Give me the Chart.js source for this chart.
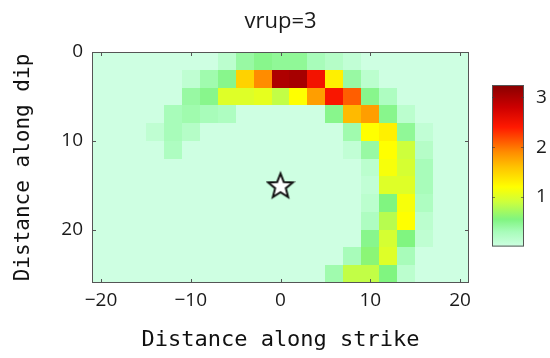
<!DOCTYPE html>
<html lang="en">
<head>
<meta charset="UTF-8" />
<title>vrup=3</title>
<style>
  body { margin: 0; padding: 0; background: #fff; }
  .wrap { position: relative; width: 550px; height: 358px; }
  #main { position: absolute; left: 0; top: 0; }
  #cbar { position: absolute; left: 470px; top: 60px; }
</style>
</head>
<body>
<div class="wrap">
  <canvas id="main" width="550" height="358"></canvas>
  <canvas id="cbar" width="80" height="210"></canvas>
</div>
<script src="https://cdn.jsdelivr.net/npm/chart.js@4.4.0/dist/chart.umd.min.js"></script>
<script>
// cell centres (km), cells are 2 km wide
const cellSize = 2;
const strikeCenters = [-20, -18, -16, -14, -12, -10, -8, -6, -4, -2, 0, 2, 4, 6, 8, 10, 12, 14, 16, 18, 20];
const dipCenters = [1, 3, 5, 7, 9, 11, 13, 15, 17, 19, 21, 23, 25];

// slip per cell, one row per dip centre
const slip = [
  [0, 0, 0, 0, 0, 0, 0, 0.15, 0.4, 0.5, 0.45, 0.45, 0.3, 0.2, 0.1, 0, 0, 0, 0, 0, 0],
  [0, 0, 0, 0, 0, 0.12, 0.35, 0.5, 1.5, 1.9, 3.0, 3.05, 2.5, 1.3, 0.4, 0.15, 0, 0, 0, 0, 0],
  [0, 0, 0, 0, 0, 0.4, 0.5, 1.0, 1.0, 1.05, 0.85, 1.2, 1.8, 2.45, 2.1, 0.5, 0.25, 0, 0, 0, 0],
  [0, 0, 0, 0, 0.3, 0.35, 0.3, 0.25, 0, 0, 0, 0, 0, 0.5, 1.65, 1.8, 0.5, 0.15, 0, 0, 0],
  [0, 0, 0, 0.12, 0.3, 0.2, 0, 0, 0, 0, 0, 0, 0, 0, 0.35, 1.2, 1.3, 0.45, 0.1, 0, 0],
  [0, 0, 0, 0, 0.25, 0, 0, 0, 0, 0, 0, 0, 0, 0, 0.1, 0.4, 1.2, 0.9, 0.2, 0, 0],
  [0, 0, 0, 0, 0, 0, 0, 0, 0, 0, 0, 0, 0, 0, 0, 0.15, 1.15, 0.95, 0.3, 0, 0],
  [0, 0, 0, 0, 0, 0, 0, 0, 0, 0, 0, 0, 0, 0, 0, 0.1, 1.0, 1.0, 0.3, 0, 0],
  [0, 0, 0, 0, 0, 0, 0, 0, 0, 0, 0, 0, 0, 0, 0, 0.15, 0.55, 1.15, 0.25, 0, 0],
  [0, 0, 0, 0, 0, 0, 0, 0, 0, 0, 0, 0, 0, 0, 0, 0.25, 0.8, 1.2, 0.15, 0, 0],
  [0, 0, 0, 0, 0, 0, 0, 0, 0, 0, 0, 0, 0, 0, 0, 0.5, 0.95, 0.55, 0.12, 0, 0],
  [0, 0, 0, 0, 0, 0, 0, 0, 0, 0, 0, 0, 0, 0, 0.3, 0.6, 1.0, 0.3, 0, 0, 0],
  [0, 0, 0, 0, 0, 0, 0, 0, 0, 0, 0, 0, 0, 0.35, 0.85, 0.85, 0.55, 0.15, 0, 0, 0]
];

const hypocenter = [{ x: 0, y: 15 }];
const xTickValues = [-20, -10, 0, 10, 20];
const yTickValues = [0, 10, 20];
const colorbarTicks = [1, 2, 3];
const colorbarMax = 3.25;

// colormap: [value, r, g, b]
const colorStops = [
  [0.0, 206, 255, 226],
  [0.3, 168, 252, 186],
  [0.55, 128, 245, 128],
  [0.9, 205, 255, 60],
  [1.2, 255, 255, 0],
  [1.6, 255, 195, 0],
  [1.9, 255, 140, 0],
  [2.4, 255, 25, 0],
  [2.8, 205, 0, 0],
  [3.25, 135, 0, 0]
];

function slipColor(v) {
  if (v <= colorStops[0][0]) return `rgb(${colorStops[0].slice(1).join(',')})`;
  for (let i = 1; i < colorStops.length; i++) {
    const a = colorStops[i - 1], b = colorStops[i];
    if (v <= b[0]) {
      const t = (v - a[0]) / (b[0] - a[0]);
      const c = [1, 2, 3].map(k => Math.round(a[k] + (b[k] - a[k]) * t));
      return `rgb(${c.join(',')})`;
    }
  }
  const last = colorStops[colorStops.length - 1];
  return `rgb(${last.slice(1).join(',')})`;
}

function makeStar(rOuter, rInner) {
  const size = Math.ceil(rOuter * 2 + 4);
  const c = document.createElement('canvas');
  c.width = size;
  c.height = size;
  const g = c.getContext('2d');
  const cx = size / 2, cy = size / 2 + rOuter * 0.095;
  g.beginPath();
  for (let i = 0; i < 10; i++) {
    const r = i % 2 ? rInner : rOuter;
    const a = -Math.PI / 2 + i * Math.PI / 5;
    g.lineTo(cx + r * Math.cos(a), cy + r * Math.sin(a));
  }
  g.closePath();
  g.fillStyle = '#fff';
  g.fill();
  g.lineWidth = 2;
  g.strokeStyle = '#111';
  g.stroke();
  return c;
}

const cells = [];
dipCenters.forEach((y, r) => {
  strikeCenters.forEach((x, c) => cells.push({ x: x, y: y, v: slip[r][c] }));
});

const tickFont = { family: 'Open Sans', size: 19 };
const labelFont = { family: 'DejaVu Sans Mono', size: 22 };

const heatmapPlugin = {
  id: 'heatmap',
  beforeDatasetsDraw(chart) {
    const { ctx } = chart;
    const xs = chart.scales.x, ys = chart.scales.y;
    ctx.save();
    chart.data.datasets[0].data.forEach(d => {
      const x0 = Math.round(xs.getPixelForValue(d.x - cellSize / 2));
      const x1 = Math.round(xs.getPixelForValue(d.x + cellSize / 2));
      const y0 = Math.round(ys.getPixelForValue(d.y - cellSize / 2));
      const y1 = Math.round(ys.getPixelForValue(d.y + cellSize / 2));
      ctx.fillStyle = slipColor(d.v);
      ctx.fillRect(x0, Math.min(y0, y1), x1 - x0, Math.abs(y1 - y0));
    });
    ctx.restore();
  },
  afterDatasetsDraw(chart) {
    const { ctx, chartArea: a } = chart;
    const xs = chart.scales.x, ys = chart.scales.y;
    ctx.save();
    ctx.strokeStyle = '#555';
    ctx.lineWidth = 1;
    ctx.strokeRect(a.left + 0.5, a.top + 0.5, a.right - a.left - 1, a.bottom - a.top - 1);
    ctx.beginPath();
    xTickValues.forEach(v => {
      const px = Math.round(xs.getPixelForValue(v)) + 0.5;
      ctx.moveTo(px, a.top); ctx.lineTo(px, a.top + 4);
      ctx.moveTo(px, a.bottom); ctx.lineTo(px, a.bottom - 4);
    });
    yTickValues.forEach(v => {
      const py = Math.round(ys.getPixelForValue(v)) + 0.5;
      ctx.moveTo(a.left, py); ctx.lineTo(a.left + 4, py);
      ctx.moveTo(a.right, py); ctx.lineTo(a.right - 4, py);
    });
    ctx.stroke();
    ctx.restore();
  }
};

new Chart(document.getElementById('main'), {
  type: 'scatter',
  data: {
    datasets: [
      { label: 'slip', data: cells, pointRadius: 0, pointHoverRadius: 0 },
      { label: 'hypocenter', data: hypocenter, pointStyle: makeStar(13, 5.6), pointRadius: 13 }
    ]
  },
  options: {
    responsive: false,
    animation: false,
    layout: { padding: { left: 0, right: 81, top: 0, bottom: 0 } },
    plugins: {
      legend: { display: false },
      tooltip: { enabled: false },
      title: {
        display: true,
        fullSize: false,
        text: 'vrup=3',
        color: '#1a1a1a',
        font: { family: 'Open Sans', size: 22, weight: 'normal', lineHeight: 1.2 },
        padding: { top: 9, bottom: 16.6 }
      }
    },
    scales: {
      x: {
        type: 'linear',
        min: -21,
        max: 21,
        afterBuildTicks: s => { s.ticks = xTickValues.map(v => ({ value: v })); },
        afterFit: s => { s.height = 75; },
        grid: { display: false, drawTicks: false },
        border: { display: false },
        ticks: {
          color: '#1a1a1a',
          font: tickFont,
          padding: 6,
          maxRotation: 0,
          callback: v => (v < 0 ? '\u2212' + Math.abs(v) : String(v))
        },
        title: {
          display: true,
          text: 'Distance along strike',
          color: '#111',
          font: labelFont,
          padding: { top: 0, bottom: 5 }
        }
      },
      y: {
        type: 'linear',
        reverse: true,
        min: 0,
        max: 26,
        afterBuildTicks: s => { s.ticks = yTickValues.map(v => ({ value: v })); },
        afterFit: s => { s.width = 92; },
        grid: { display: false, drawTicks: false },
        border: { display: false },
        ticks: { color: '#1a1a1a', font: tickFont, padding: 9 },
        title: {
          display: true,
          text: 'Distance along dip',
          color: '#111',
          font: { family: 'DejaVu Sans Mono', size: 21 },
          padding: { top: 11, bottom: 0 }
        }
      }
    }
  },
  plugins: [heatmapPlugin]
});

const colorbarPlugin = {
  id: 'colorbar',
  beforeDatasetsDraw(chart) {
    const { ctx, chartArea: a } = chart;
    const ys = chart.scales.y;
    const yBottom = ys.getPixelForValue(0), yTop = ys.getPixelForValue(colorbarMax);
    const grad = ctx.createLinearGradient(0, yBottom, 0, yTop);
    colorStops.forEach(s => grad.addColorStop(s[0] / colorbarMax, slipColor(s[0])));
    ctx.save();
    ctx.fillStyle = grad;
    ctx.fillRect(a.left, a.top, a.right - a.left, a.bottom - a.top);
    ctx.strokeStyle = '#555';
    ctx.lineWidth = 1;
    ctx.strokeRect(a.left + 0.5, a.top + 0.5, a.right - a.left - 1, a.bottom - a.top - 1);
    ctx.beginPath();
    colorbarTicks.forEach(v => {
      const py = Math.round(ys.getPixelForValue(v)) + 0.5;
      ctx.moveTo(a.left, py); ctx.lineTo(a.left + 3, py);
      ctx.moveTo(a.right, py); ctx.lineTo(a.right - 3, py);
    });
    ctx.strokeStyle = 'rgba(60,60,60,0.6)';
    ctx.stroke();
    ctx.restore();
  }
};

new Chart(document.getElementById('cbar'), {
  type: 'scatter',
  data: { datasets: [] },
  options: {
    responsive: false,
    animation: false,
    layout: { padding: { left: 22, top: 25, bottom: 22, right: 0 } },
    plugins: { legend: { display: false }, tooltip: { enabled: false } },
    scales: {
      x: { display: false },
      y: {
        position: 'right',
        min: 0,
        max: colorbarMax,
        afterBuildTicks: s => { s.ticks = colorbarTicks.map(v => ({ value: v })); },
        afterFit: s => { s.width = 26; },
        grid: { display: false, drawTicks: false },
        border: { display: false },
        ticks: { color: '#1a1a1a', font: tickFont, padding: 12 }
      }
    }
  },
  plugins: [colorbarPlugin]
});
</script>
</body>
</html>
